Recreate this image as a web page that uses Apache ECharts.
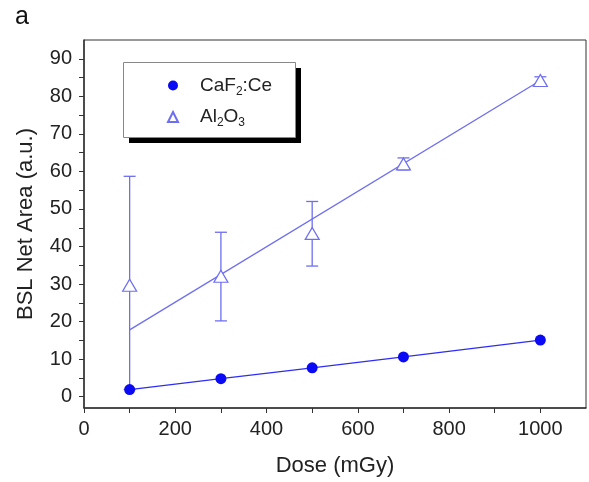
<!DOCTYPE html>
<html>
<head>
    <meta charset="UTF-8">
    <title>BSL Net Area vs Dose</title>
    <script src="https://cdn.jsdelivr.net/npm/echarts@6/dist/echarts.min.js"></script>
    <style>
        html, body { margin: 0; padding: 0; background: #fff; }
    </style>
</head>
<body>
<div id="chart" style="width: 589px;height: 482px;"></div>
<script type="text/javascript">
    // dose values (mGy)
    var doses = [100, 300, 500, 700, 1000];
    // CaF2:Ce measurements
    var cafValues = [1.9, 4.8, 7.7, 10.6, 15.1];
    // Al2O3 measurements and their error bars (down / up)
    var alValues = [29.7, 32.1, 43.5, 62.0, 84.2];
    var alErrLow = [27.8, 11.9, 8.7, 1.6, 1.0];
    var alErrHigh = [29.0, 11.7, 8.5, 1.6, 1.0];
    // linear fit for Al2O3, end points
    var fitDoses = [100, 1000];
    var alFit = [17.8, 84.2];
    // axis ticks
    var xLabels = [0, 200, 400, 600, 800, 1000];
    var xTicks = [0, 100, 200, 300, 400, 500, 600, 700, 800, 900, 1000];
    var yLabels = [0, 10, 20, 30, 40, 50, 60, 70, 80, 90];
    var yTicks = [0, 5, 10, 15, 20, 25, 30, 35, 40, 45, 50, 55, 60, 65, 70, 75, 80, 85, 90];

    var font = 'Liberation Sans';
    var chartDom = document.getElementById('chart');
    var myChart = echarts.init(chartDom);

    var cafData = doses.map(function (d, i) { return [d, cafValues[i]]; });
    var alData = doses.map(function (d, i) { return [d, alValues[i]]; });
    var errData = doses.map(function (d, i) { return [d, alValues[i] - alErrLow[i], alValues[i] + alErrHigh[i]]; });
    var fitData = fitDoses.map(function (d, i) { return [d, alFit[i]]; });

    var option = {
        animation: false,
        title: {
            text: 'a',
            left: 10,
            top: 0,
            textStyle: { fontFamily: font, fontSize: 25, fontWeight: 'normal', color: '#111' }
        },
        // legend frame with its drop shadow
        graphic: [
            {
                type: 'rect',
                left: 129,
                top: 68,
                z: 1,
                shape: { width: 172, height: 75 },
                style: { fill: '#000' }
            },
            {
                type: 'rect',
                left: 123,
                top: 62,
                z: 2,
                shape: { width: 172, height: 75 },
                style: { fill: '#fff', stroke: '#888', lineWidth: 1 }
            }
        ],
        grid: {
            left: 84,
            right: 3,
            top: 40,
            bottom: 72,
            show: true,
            borderColor: '#333',
            borderWidth: 1
        },
        legend: {
            orient: 'vertical',
            left: 167,
            top: 76,
            z: 10,
            padding: 0,
            itemGap: 10,
            itemWidth: 10,
            itemHeight: 10,
            data: [
                { name: 'CaF2:Ce', icon: 'circle' },
                { name: 'Al2O3', icon: 'triangle' }
            ],
            formatter: function (name) {
                if (name === 'CaF2:Ce') return 'CaF{sub|2}:Ce';
                return 'Al{sub|2}O{sub|3}';
            },
            textStyle: {
                fontFamily: font,
                fontSize: 19,
                color: '#222',
                padding: [0, 0, 0, 17],
                rich: {
                    sub: { fontFamily: font, fontSize: 12, color: '#222', padding: [12, 0, 0, 0] }
                }
            }
        },
        xAxis: {
            type: 'value',
            min: 0,
            max: 1100,
            name: 'Dose (mGy)',
            nameLocation: 'middle',
            nameGap: 47,
            nameTextStyle: { fontFamily: font, fontSize: 22, color: '#222' },
            axisLine: { show: true, onZero: false, lineStyle: { color: '#333', width: 1.5 } },
            axisTick: { show: true, length: 5, customValues: xTicks, lineStyle: { color: '#333' } },
            axisLabel: {
                customValues: xLabels, margin: 11, fontFamily: font, fontSize: 20, color: '#222',
                formatter: function (v) { return String(v); }
            },
            splitLine: { show: false }
        },
        yAxis: {
            type: 'value',
            min: -3,
            max: 95,
            name: 'BSL Net Area (a.u.)',
            nameLocation: 'middle',
            nameGap: 47,
            nameTextStyle: { fontFamily: font, fontSize: 22, color: '#222' },
            axisLine: { show: true, onZero: false, lineStyle: { color: '#333', width: 1.5 } },
            axisTick: { show: true, length: 5, customValues: yTicks, lineStyle: { color: '#333' } },
            axisLabel: { customValues: yLabels, margin: 12, fontFamily: font, fontSize: 20, color: '#222' },
            splitLine: { show: false }
        },
        series: [
            {
                name: 'Al2O3 error',
                type: 'custom',
                data: errData,
                z: 2,
                renderItem: function (params, api) {
                    var x = api.value(0);
                    var lo = api.coord([x, api.value(1)]);
                    var hi = api.coord([x, api.value(2)]);
                    var w = 6;
                    var style = { stroke: '#6e6ef2', lineWidth: 1.3 };
                    return {
                        type: 'group',
                        children: [
                            { type: 'line', shape: { x1: lo[0], y1: lo[1], x2: hi[0], y2: hi[1] }, style: style },
                            { type: 'line', shape: { x1: hi[0] - w, y1: hi[1], x2: hi[0] + w, y2: hi[1] }, style: style },
                            { type: 'line', shape: { x1: lo[0] - w, y1: lo[1], x2: lo[0] + w, y2: lo[1] }, style: style }
                        ]
                    };
                }
            },
            {
                name: 'Al2O3 fit',
                type: 'line',
                data: fitData,
                showSymbol: false,
                z: 3,
                lineStyle: { color: '#6e6ef2', width: 1.3 }
            },
            {
                name: 'Al2O3',
                type: 'scatter',
                data: alData,
                symbol: 'triangle',
                symbolSize: [14, 12],
                z: 4,
                itemStyle: { color: '#fff', borderColor: '#6e6ef2', borderWidth: 1.2, opacity: 1 }
            },
            {
                name: 'CaF2:Ce',
                type: 'line',
                data: cafData,
                symbol: 'circle',
                symbolSize: 11,
                z: 5,
                lineStyle: { color: '#2d2df5', width: 1.3 },
                itemStyle: { color: '#0a0af5' }
            }
        ]
    };

    option && myChart.setOption(option);
</script>
</body>
</html>
